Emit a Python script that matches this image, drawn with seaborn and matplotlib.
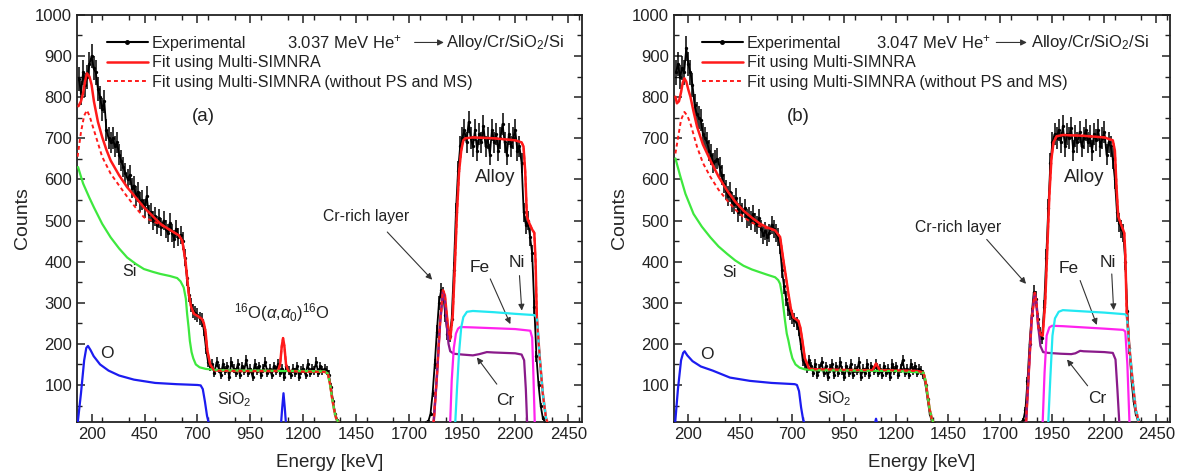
import numpy as np
import matplotlib
matplotlib.use('Agg')
import matplotlib.pyplot as plt
from matplotlib.lines import Line2D
from matplotlib.ticker import MultipleLocator
import seaborn as sns

# ---------------- panel (a): 3.037 MeV He+ ----------------
# experimental counts, 10 keV channels starting at 140 keV and at 1780 keV
a_exp_lo = [845, 810, 860, 830, 850, 880, 900, 870, 860, 820, 800, 770, 790, 720, 700, 690, 700, 680, 690, 660,
            645, 630, 615, 600, 610, 580, 585, 560, 570, 545, 550, 530, 560, 515, 520, 500, 510, 490, 505, 485,
            500, 480, 470, 495, 470, 455, 480, 460, 465, 450, 410, 360, 320, 295, 280, 275, 270, 262, 258, 235,
            190, 155, 145, 150, 130, 155, 140, 125, 150, 135, 145, 120, 155, 140, 130, 150, 125, 145, 135, 160,
            130, 140, 120, 150, 135, 145, 125, 140, 155, 130, 140, 125, 145, 135, 150, 130, 140, 120, 145, 135,
            125, 140, 130, 145, 120, 135, 140, 125, 150, 130, 140, 135, 155, 130, 145, 135, 140, 135, 125, 95,
            60, 30, 15, 10]
a_exp_hi = [10, 12, 30, 80, 150, 230, 300, 330, 320, 270, 225, 220, 260, 380, 520, 620, 680, 700, 720, 690,
            740, 700, 680, 720, 670, 710, 690, 730, 680, 700, 660, 720, 690, 710, 670, 700, 735, 690, 660, 710,
            680, 700, 720, 670, 680, 640, 520, 490, 500, 460, 420, 290, 170, 100, 50, 20, 10, 8]
a_fit_E = [138, 150, 160, 170, 178, 190, 200, 211, 230, 250, 270, 290, 330, 368, 410, 447, 490, 525, 570, 612,
           628, 643, 659, 670, 683, 700, 714, 722, 730, 738, 746, 760, 777, 800, 900, 1000, 1080, 1090, 1098, 1104,
           1110, 1118, 1128, 1200, 1300, 1315, 1325, 1335, 1345, 1355, 1365, 1380, 1800, 1815, 1830, 1845, 1859, 1868, 1877, 1885,
           1893, 1905, 1915, 1925, 1935, 1945, 1955, 1964, 2000, 2100, 2200, 2230, 2239, 2247, 2255, 2265, 2280, 2290, 2296, 2302,
           2315, 2330, 2345, 2355]
a_fit_c = [778, 790, 810, 840, 858, 850, 830, 790, 740, 703, 672, 646, 610, 581, 555, 532, 510, 492, 477, 464,
           451, 403, 321, 290, 273, 268, 263, 260, 250, 230, 185, 150, 136, 135, 134, 134, 134, 150, 195, 214,
           195, 150, 134, 133, 132, 128, 105, 70, 40, 18, 10, 0, 0, 10, 120, 250, 330, 318, 270, 230,
           212, 270, 390, 520, 620, 670, 695, 700, 702, 700, 695, 690, 680, 620, 510, 495, 478, 470, 400, 265,
           170, 80, 20, 5]
a_nops_E = [134, 150, 165, 178, 190, 211, 250, 290, 330, 368, 410, 447, 490, 525]
a_nops_c = [655, 715, 755, 768, 755, 720, 655, 614, 585, 558, 530, 508, 498, 490]
a_si_E = [136, 160, 190, 211, 250, 290, 330, 368, 410, 447, 490, 525, 570, 604, 620, 635, 645, 651, 658, 664,
          672, 680, 692, 710, 740, 764, 800, 900, 1000, 1100, 1200, 1300, 1315, 1325, 1335, 1345, 1355, 1365, 1380]
a_si_c = [630, 590, 555, 532, 492, 459, 432, 410, 394, 382, 375, 370, 365, 360, 352, 337, 310, 273, 240, 207,
          180, 165, 150, 143, 139, 138, 136, 135, 135, 134, 134, 133, 128, 105, 70, 40, 18, 10, 0]
a_o_E = [135, 150, 165, 175, 183, 195, 210, 240, 280, 330, 400, 500, 600, 700, 715, 725, 735, 745, 752, 765,
         1085, 1095, 1100, 1106, 1112, 1117, 1127]
a_o_c = [10, 80, 160, 190, 195, 185, 170, 150, 135, 123, 113, 105, 102, 100, 99, 90, 60, 25, 10, 0,
         0, 10, 45, 80, 45, 10, 0]
a_cr_E = [1800, 1815, 1830, 1845, 1859, 1868, 1877, 1885, 1893, 1910, 1950, 2000, 2030, 2066, 2100, 2200, 2230, 2242, 2250, 2256, 2265]
a_cr_c = [0, 10, 120, 250, 328, 305, 243, 200, 182, 176, 174, 172, 175, 180, 179, 177, 174, 160, 90, 10, 0]
a_fe_E = [1880, 1893, 1900, 1910, 1920, 1930, 1940, 2000, 2100, 2200, 2271, 2280, 2286, 2292, 2300]
a_fe_c = [0, 10, 110, 190, 225, 237, 241, 240, 238, 236, 232, 215, 120, 10, 0]
a_ni_E = [1905, 1917, 1925, 1935, 1945, 1955, 1972, 2000, 2100, 2200, 2290, 2302, 2315, 2330, 2345, 2355, 2365]
a_ni_c = [0, 10, 90, 180, 240, 265, 278, 280, 277, 273, 270, 265, 170, 80, 20, 5, 0]

# ---------------- panel (b): 3.047 MeV He+ ----------------
b_exp_lo = [860, 880, 850, 870, 860, 919, 880, 860, 830, 780, 760, 750, 745, 710, 700, 690, 670, 660, 640, 645,
            650, 630, 610, 590, 575, 560, 570, 545, 540, 555, 520, 535, 520, 530, 505, 510, 500, 515, 495, 490,
            505, 480, 465, 475, 460, 470, 490, 480, 470, 460, 440, 380, 340, 310, 285, 275, 265, 258, 250, 235,
            200, 160, 150, 140, 160, 145, 130, 150, 125, 140, 155, 130, 145, 120, 140, 150, 125, 145, 130, 155,
            135, 120, 145, 130, 150, 125, 140, 135, 155, 120, 140, 130, 150, 125, 145, 135, 150, 130, 140, 125,
            145, 130, 140, 120, 150, 135, 145, 125, 140, 160, 130, 140, 125, 150, 135, 145, 130, 140, 135, 125,
            100, 65, 30, 12, 8]
b_exp_hi = [8, 10, 15, 40, 110, 200, 270, 325, 310, 260, 225, 215, 290, 410, 530, 640, 690, 710, 700, 720,
            690, 730, 680, 710, 700, 725, 670, 705, 690, 715, 680, 700, 720, 690, 705, 670, 710, 695, 720, 680,
            700, 715, 660, 690, 680, 650, 600, 520, 495, 480, 470, 400, 280, 190, 110, 60, 30, 15, 10, 8]
b_fit_E = [138, 145, 155, 165, 173, 181, 190, 200, 210, 225, 242, 270, 306, 345, 386, 425, 465, 505, 545, 580,
           617, 641, 657, 670, 681, 693, 705, 717, 729, 738, 746, 760, 780, 800, 900, 1000, 1085, 1095, 1102, 1110,
           1120, 1200, 1300, 1330, 1340, 1350, 1360, 1370, 1385, 1805, 1823, 1835, 1850, 1865, 1873, 1882, 1892, 1903, 1915, 1925,
           1935, 1945, 1955, 1970, 2000, 2100, 2200, 2240, 2250, 2258, 2266, 2280, 2295, 2300, 2307, 2320, 2335, 2350, 2365, 2375]
b_fit_c = [801, 785, 790, 812, 835, 846, 838, 818, 801, 765, 728, 685, 646, 607, 573, 546, 524, 507, 492, 483,
           476, 460, 403, 360, 322, 285, 264, 260, 256, 240, 215, 165, 140, 138, 137, 136, 136, 145, 152, 145,
           136, 135, 134, 130, 110, 75, 40, 18, 0, 0, 10, 120, 260, 324, 300, 240, 222, 220, 300, 430,
           560, 650, 690, 705, 708, 706, 702, 695, 670, 580, 510, 490, 470, 420, 275, 190, 110, 40, 10, 0]
b_nops_E = [138, 150, 165, 181, 195, 210, 242, 270, 306, 345, 386, 425, 465, 505, 545]
b_nops_c = [663, 700, 745, 764, 755, 736, 679, 640, 606, 575, 549, 527, 508, 495, 486]
b_si_E = [138, 160, 186, 225, 265, 306, 345, 386, 425, 465, 505, 545, 580, 617, 632, 641, 650, 657, 665, 673,
          681, 690, 700, 715, 735, 760, 800, 1000, 1200, 1330, 1340, 1350, 1360, 1370, 1385]
b_si_c = [651, 610, 565, 516, 485, 459, 437, 419, 403, 390, 381, 374, 368, 362, 355, 346, 320, 289, 255, 225,
          208, 185, 165, 150, 142, 138, 136, 135, 134, 130, 110, 75, 40, 18, 0]
b_o_E = [137, 150, 165, 175, 182, 195, 220, 260, 317, 400, 496, 600, 711, 722, 732, 742, 752, 765, 1094, 1102, 1110]
b_o_c = [10, 90, 160, 178, 182, 172, 158, 145, 135, 118, 110, 105, 102, 100, 85, 45, 15, 0, 0, 18, 0]
b_cr_E = [1805, 1823, 1835, 1850, 1865, 1873, 1882, 1892, 1905, 1930, 1990, 2040, 2060, 2083, 2100, 2200, 2240, 2253, 2262, 2271, 2280]
b_cr_c = [0, 10, 120, 260, 322, 300, 240, 195, 180, 178, 176, 175, 177, 183, 182, 180, 178, 162, 90, 10, 0]
b_fe_E = [1893, 1903, 1912, 1922, 1935, 1948, 2000, 2100, 2200, 2290, 2300, 2310, 2320, 2330]
b_fe_c = [0, 10, 130, 220, 240, 244, 243, 240, 237, 234, 230, 150, 10, 0]
b_ni_E = [1920, 1930, 1940, 1950, 1962, 1980, 2000, 2100, 2200, 2300, 2307, 2320, 2335, 2350, 2365, 2375]
b_ni_c = [0, 10, 120, 220, 262, 278, 282, 279, 276, 272, 268, 190, 110, 40, 10, 0]

legend_labels = ['Experimental', 'Fit using Multi-SIMNRA', 'Fit using Multi-SIMNRA (without PS and MS)']

C_RED = '#ff1a1a'
C_SI = '#3ee83e'
C_O = '#1c1cf0'
C_CR = '#8a1a8a'
C_FE = '#ff22ee'
C_NI = '#22e8f2'

sns.set_theme(style='ticks')
plt.rcParams['font.family'] = ['Liberation Sans', 'DejaVu Sans']
plt.rcParams.update({
    'mathtext.fontset': 'custom',
    'mathtext.rm': 'Liberation Sans',
    'mathtext.it': 'Liberation Sans:italic',
    'axes.linewidth': 1.3, 'axes.edgecolor': '#222222',
    'text.color': '#222222', 'xtick.color': '#222222', 'ytick.color': '#222222',
})


def line(ax, E, c, color, lw=1.6, ls='-', z=3):
    sns.lineplot(x=E, y=c, ax=ax, color=color, lw=lw, linestyle=ls, sort=False,
                 estimator=None, zorder=z)


def arrow(ax, start, end):
    ax.annotate('', xy=end, xytext=start,
                arrowprops=dict(arrowstyle='-|>', color='#333333', lw=0.8, mutation_scale=9,
                                shrinkA=0, shrinkB=0))


def draw_panel(ax, exp_lo, exp_hi, fit_E, fit_c, nops_E, nops_c, si, o, cr, fe, ni, energy, tag, pos):
    e_lo = 140 + 10 * np.arange(len(exp_lo))
    e_hi = pos['hi0'] + 10 * np.arange(len(exp_hi))
    for ee, cc in ((e_lo, np.array(exp_lo)), (e_hi, np.array(exp_hi))):
        ax.errorbar(ee, cc, yerr=np.sqrt(cc), fmt='none', ecolor='black', elinewidth=1.1, zorder=2)
        sns.lineplot(x=ee, y=cc, ax=ax, color='black', lw=1.3, marker='o', markersize=2.4,
                     markeredgewidth=0, sort=False, estimator=None, zorder=2)
    line(ax, fit_E, fit_c, C_RED, lw=1.8, z=3)
    line(ax, *si, C_SI, z=4)
    line(ax, *o, C_O, z=4)
    line(ax, *cr, C_CR, z=4)
    line(ax, *fe, C_FE, z=4)
    line(ax, *ni, C_NI, z=4)
    tail = [i for i, e in enumerate(fit_E) if e > nops_E[-1] + 40]
    dE = list(nops_E) + [fit_E[i] for i in tail]
    dC = list(nops_c) + [fit_c[i] for i in tail]
    line(ax, dE, dC, C_RED, lw=1.4, ls=(0, (2.0, 1.6)), z=5)

    ax.set_xlim(131, 2515)
    ax.set_ylim(10, 1000)
    ax.set_xticks(np.arange(200, 2451, 250))
    ax.xaxis.set_minor_locator(MultipleLocator(125))
    ax.set_yticks(np.arange(100, 1001, 100))
    ax.yaxis.set_minor_locator(MultipleLocator(50))
    ax.tick_params(which='both', direction='in', top=True, right=True, color='#222222')
    ax.tick_params(which='major', length=6, width=1.1, labelsize=12)
    ax.tick_params(which='minor', length=3.5, width=1.0)
    ax.set_xlabel('Energy [keV]', fontsize=13.5, labelpad=9)
    ax.set_ylabel('Counts', fontsize=14, labelpad=3)

    handles = [Line2D([], [], color='black', lw=1.5, marker='o', ms=2.5),
               Line2D([], [], color=C_RED, lw=1.8),
               Line2D([], [], color=C_RED, lw=1.4, ls=(0, (2.0, 1.6)))]
    ax.legend(handles, legend_labels, loc='upper left', bbox_to_anchor=(pos['leg'], 0.948),
              frameon=False, fontsize=11.6, handlelength=2.5, handletextpad=0.25,
              labelspacing=0.27, borderpad=0, borderaxespad=0)

    ax.text(pos['title'][0], 933, energy + ' MeV He$^{+}$', fontsize=12, va='center', ha='left')
    arrow(ax, (pos['title'][1], 933), (pos['title'][2], 933))
    ax.text(pos['title'][3], 933, 'Alloy/Cr/SiO$_2$/Si', fontsize=12, va='center', ha='left')
    ax.text(728, 752, tag, fontsize=13.5, ha='center', va='center')
    ax.text(2105, 605, 'Alloy', fontsize=13.5, ha='center', va='center')
    ax.text(1495, pos['crr'][0], 'Cr-rich layer', fontsize=11.3, ha='center', va='center')
    arrow(ax, pos['crr'][1], pos['crr'][2])
    ax.text(*pos['si'], 'Si', fontsize=11.5, ha='center', va='center')
    ax.text(*pos['o'], 'O', fontsize=12.5, ha='center', va='center')
    ax.text(*pos['sio2'], 'SiO$_2$', fontsize=11.5, ha='center', va='center')
    if tag == '(a)':
        ax.text(1097, 275, r'$^{16}$O($\alpha$,$\alpha_{0}$)$^{16}$O', fontsize=12, ha='center', va='center')
    ax.text(*pos['fe'][0], 'Fe', fontsize=12.5, ha='center', va='center')
    arrow(ax, pos['fe'][1], pos['fe'][2])
    ax.text(*pos['ni'][0], 'Ni', fontsize=12.5, ha='center', va='center')
    arrow(ax, pos['ni'][1], pos['ni'][2])
    ax.text(*pos['cr'][0], 'Cr', fontsize=12.5, ha='center', va='center')
    arrow(ax, pos['cr'][1], pos['cr'][2])


fig = plt.figure(figsize=(11.95, 4.75), dpi=100)
ax_a = fig.add_axes([0.0644, 0.1116, 0.4226, 0.8570])
ax_b = fig.add_axes([0.5640, 0.1116, 0.4151, 0.8570])

pos_a = {'hi0': 1780, 'leg': 0.060, 'title': (1124, 1725, 1863, 1872),
         'crr': (510, (1596, 472), (1808, 356)),
         'si': (377, 376), 'o': (274, 176), 'sio2': (872, 65),
         'fe': ((2030, 385), (2082, 358), (2177, 248)),
         'ni': ((2207, 398), (2220, 366), (2231, 281)),
         'cr': ((2155, 62), (2113, 102), (2019, 167))}
pos_b = {'hi0': 1790, 'leg': 0.057, 'title': (1103, 1680, 1827, 1845),
         'crr': (484, (1634, 454), (1823, 346)),
         'si': (397, 374), 'o': (290, 174), 'sio2': (899, 66),
         'fe': ((2029, 384), (2083, 354), (2163, 246)),
         'ni': ((2217, 397), (2235, 370), (2244, 282)),
         'cr': ((2163, 66), (2119, 98), (2020, 162))}

draw_panel(ax_a, a_exp_lo, a_exp_hi, a_fit_E, a_fit_c, a_nops_E, a_nops_c,
           (a_si_E, a_si_c), (a_o_E, a_o_c), (a_cr_E, a_cr_c), (a_fe_E, a_fe_c), (a_ni_E, a_ni_c),
           '3.037', '(a)', pos_a)
draw_panel(ax_b, b_exp_lo, b_exp_hi, b_fit_E, b_fit_c, b_nops_E, b_nops_c,
           (b_si_E, b_si_c), (b_o_E, b_o_c), (b_cr_E, b_cr_c), (b_fe_E, b_fe_c), (b_ni_E, b_ni_c),
           '3.047', '(b)', pos_b)

fig.savefig('out.png', dpi=100)
